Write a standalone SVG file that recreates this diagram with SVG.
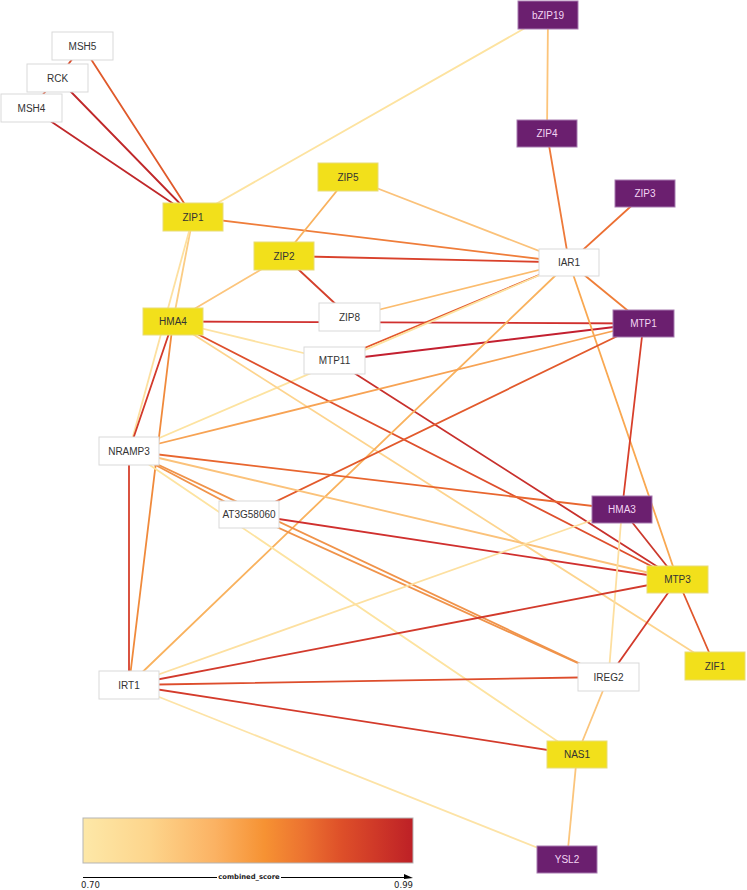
<svg xmlns="http://www.w3.org/2000/svg" width="747" height="890" viewBox="0 0 747 890">
<defs>
<linearGradient id="lg" x1="0" y1="0" x2="1" y2="0">
<stop offset="0" stop-color="#fde8a8"/>
<stop offset="0.2" stop-color="#fdd58c"/>
<stop offset="0.4" stop-color="#fbb263"/>
<stop offset="0.55" stop-color="#f69233"/>
<stop offset="0.67" stop-color="#ec7230"/>
<stop offset="0.78" stop-color="#de5029"/>
<stop offset="0.88" stop-color="#d03a28"/>
<stop offset="1" stop-color="#bd2026"/>
</linearGradient>
<style>
.e{fill:none;stroke-width:1.8;stroke-linecap:round}
.w rect{fill:#ffffff;stroke:#d9d9d9;stroke-width:1}
.y rect{fill:#f2e01b;stroke:#e8dc78;stroke-width:1}
.p rect{fill:#6b1f6f;stroke:#a77bb0;stroke-width:1}
text{font-family:"Liberation Sans",Arial,sans-serif;font-size:10px;text-anchor:middle}
.w text,.y text{fill:#333333}
.p text{fill:#f3d6f3}
.lt{font-family:"DejaVu Sans",Verdana,sans-serif;fill:#222222}
</style>
</defs>
<rect width="747" height="890" fill="#ffffff"/>
<g id="edges">
<line class="e" x1="82.5" y1="46" x2="57.5" y2="78" stroke="#d84a2a"/>
<line class="e" x1="57.5" y1="78" x2="31" y2="108" stroke="#d84a2a"/>
<line class="e" x1="82.5" y1="46" x2="193" y2="217" stroke="#e05a2b"/>
<line class="e" x1="57.5" y1="78" x2="193" y2="217" stroke="#c0282a"/>
<line class="e" x1="31" y1="108" x2="193" y2="217" stroke="#c0282a"/>
<line class="e" x1="548" y1="15" x2="193" y2="217" stroke="#fde3a0"/>
<line class="e" x1="548" y1="15" x2="547" y2="133.5" stroke="#fcc47a"/>
<line class="e" x1="547" y1="133.5" x2="569" y2="262.5" stroke="#ee7a3a"/>
<line class="e" x1="645" y1="193.5" x2="569" y2="262.5" stroke="#ec6f33"/>
<line class="e" x1="193" y1="217" x2="569" y2="262.5" stroke="#ef7d3a"/>
<line class="e" x1="348" y1="177" x2="569" y2="262.5" stroke="#fbc27a"/>
<line class="e" x1="348" y1="177" x2="284" y2="256" stroke="#f9b25e"/>
<line class="e" x1="284" y1="256" x2="569" y2="262.5" stroke="#d9412b"/>
<line class="e" x1="284" y1="256" x2="349.5" y2="317" stroke="#d4402c"/>
<line class="e" x1="284" y1="256" x2="173" y2="321.5" stroke="#fcc57c"/>
<line class="e" x1="193" y1="217" x2="173" y2="321.5" stroke="#fbcd85"/>
<line class="e" x1="193" y1="217" x2="129" y2="451" stroke="#fde0a0"/>
<line class="e" x1="173" y1="321.5" x2="643.5" y2="323.5" stroke="#d0302e"/>
<line class="e" x1="349.5" y1="317" x2="569" y2="262.5" stroke="#fbbc6e"/>
<line class="e" x1="334.5" y1="360.5" x2="569" y2="262.5" stroke="#e2562c"/>
<line class="e" x1="129" y1="451" x2="569" y2="262.5" stroke="#fde3a0" stroke-width="2.6"/>
<line class="e" x1="334.5" y1="360.5" x2="643.5" y2="323.5" stroke="#c32030"/>
<line class="e" x1="334.5" y1="360.5" x2="677.5" y2="579.5" stroke="#c8302c"/>
<line class="e" x1="173" y1="321.5" x2="334.5" y2="360.5" stroke="#fde2a2"/>
<line class="e" x1="173" y1="321.5" x2="677.5" y2="579.5" stroke="#de4f2c"/>
<line class="e" x1="173" y1="321.5" x2="715" y2="666" stroke="#fdd48e"/>
<line class="e" x1="173" y1="321.5" x2="129" y2="451" stroke="#d33a2a"/>
<line class="e" x1="173" y1="321.5" x2="129" y2="685" stroke="#f08a3c"/>
<line class="e" x1="569" y1="262.5" x2="643.5" y2="323.5" stroke="#ef7e38"/>
<line class="e" x1="569" y1="262.5" x2="677.5" y2="579.5" stroke="#f9a851"/>
<line class="e" x1="569" y1="262.5" x2="129" y2="685" stroke="#f9b25e"/>
<line class="e" x1="129" y1="451" x2="643.5" y2="323.5" stroke="#f7a354"/>
<line class="e" x1="249" y1="514.5" x2="643.5" y2="323.5" stroke="#e25a2c"/>
<line class="e" x1="643.5" y1="323.5" x2="622" y2="509.5" stroke="#d8402b"/>
<line class="e" x1="129" y1="451" x2="622" y2="509.5" stroke="#e8662f"/>
<line class="e" x1="129" y1="451" x2="677.5" y2="579.5" stroke="#fbc27a"/>
<line class="e" x1="129" y1="451" x2="608.5" y2="677" stroke="#f0934a"/>
<line class="e" x1="249" y1="514.5" x2="608.5" y2="677" stroke="#f0934a"/>
<line class="e" x1="129" y1="451" x2="249" y2="514.5" stroke="#f0934a"/>
<line class="e" x1="129" y1="451" x2="577" y2="754.5" stroke="#fde3a0"/>
<line class="e" x1="129" y1="451" x2="129" y2="685" stroke="#d6402c"/>
<line class="e" x1="249" y1="514.5" x2="677.5" y2="579.5" stroke="#d0302e"/>
<line class="e" x1="622" y1="509.5" x2="677.5" y2="579.5" stroke="#cc3a2e"/>
<line class="e" x1="677.5" y1="579.5" x2="715" y2="666" stroke="#e0572c"/>
<line class="e" x1="677.5" y1="579.5" x2="608.5" y2="677" stroke="#d23a2b"/>
<line class="e" x1="622" y1="509.5" x2="608.5" y2="677" stroke="#fddfa0"/>
<line class="e" x1="608.5" y1="677" x2="577" y2="754.5" stroke="#fbc57c"/>
<line class="e" x1="577" y1="754.5" x2="567" y2="859.5" stroke="#fbc57c"/>
<line class="e" x1="129" y1="685" x2="577" y2="754.5" stroke="#d43b2b"/>
<line class="e" x1="129" y1="685" x2="567" y2="859.5" stroke="#fde3a6"/>
<line class="e" x1="129" y1="685" x2="608.5" y2="677" stroke="#dd4d2c"/>
<line class="e" x1="129" y1="685" x2="677.5" y2="579.5" stroke="#d23a2c"/>
<line class="e" x1="129" y1="685" x2="622" y2="509.5" stroke="#fde0a0"/>
</g>
<g id="n-MSH5" class="w"><rect x="52" y="32" width="61" height="28"/><text x="82.5" y="49.5">MSH5</text></g>
<g id="n-RCK" class="w"><rect x="27" y="64" width="61" height="28"/><text x="57.5" y="81.5">RCK</text></g>
<g id="n-MSH4" class="w"><rect x="1" y="94" width="61" height="28"/><text x="31.5" y="111.5">MSH4</text></g>
<g id="n-ZIP1" class="y"><rect x="163" y="203" width="60" height="28"/><text x="193" y="220.5">ZIP1</text></g>
<g id="n-bZIP19" class="p"><rect x="518" y="1" width="60" height="28"/><text x="548" y="18.5">bZIP19</text></g>
<g id="n-ZIP4" class="p"><rect x="517" y="120" width="60" height="27"/><text x="547" y="137">ZIP4</text></g>
<g id="n-ZIP3" class="p"><rect x="615" y="180" width="60" height="27"/><text x="645" y="197">ZIP3</text></g>
<g id="n-ZIP5" class="y"><rect x="318" y="163" width="60" height="28"/><text x="348" y="180.5">ZIP5</text></g>
<g id="n-ZIP2" class="y"><rect x="254" y="242" width="60" height="28"/><text x="284" y="259.5">ZIP2</text></g>
<g id="n-IAR1" class="w"><rect x="539" y="249" width="60" height="27"/><text x="569" y="266">IAR1</text></g>
<g id="n-HMA4" class="y"><rect x="143" y="308" width="60" height="27"/><text x="173" y="325">HMA4</text></g>
<g id="n-ZIP8" class="w"><rect x="319" y="303" width="61" height="28"/><text x="349.5" y="320.5">ZIP8</text></g>
<g id="n-MTP11" class="w"><rect x="304" y="347" width="61" height="27"/><text x="334.5" y="364">MTP11</text></g>
<g id="n-MTP1" class="p"><rect x="613" y="310" width="61" height="27"/><text x="643.5" y="327">MTP1</text></g>
<g id="n-NRAMP3" class="w"><rect x="99" y="437" width="60" height="28"/><text x="129" y="454.5">NRAMP3</text></g>
<g id="n-AT3G58060" class="w"><rect x="219" y="501" width="60" height="27"/><text x="249" y="518">AT3G58060</text></g>
<g id="n-HMA3" class="p"><rect x="592" y="496" width="60" height="27"/><text x="622" y="513">HMA3</text></g>
<g id="n-MTP3" class="y"><rect x="647" y="566" width="61" height="27"/><text x="677.5" y="583">MTP3</text></g>
<g id="n-ZIF1" class="y"><rect x="685" y="652" width="60" height="28"/><text x="715" y="669.5">ZIF1</text></g>
<g id="n-IREG2" class="w"><rect x="578" y="663" width="61" height="28"/><text x="608.5" y="680.5">IREG2</text></g>
<g id="n-IRT1" class="w"><rect x="99" y="671" width="60" height="28"/><text x="129" y="688.5">IRT1</text></g>
<g id="n-NAS1" class="y"><rect x="547" y="741" width="60" height="27"/><text x="577" y="758">NAS1</text></g>
<g id="n-YSL2" class="p"><rect x="537" y="846" width="60" height="27"/><text x="567" y="863">YSL2</text></g>
<g id="legend">
<rect x="83" y="818" width="330" height="45" fill="url(#lg)" stroke="#b5b5b5" stroke-width="1"/>
<line x1="83" y1="877.5" x2="405" y2="877.5" stroke="#000000" stroke-width="1"/>
<polygon points="404,874 413,878 404,879" fill="#000000"/>
<rect x="217" y="872" width="64" height="8" fill="#ffffff"/>
<text class="lt" x="249" y="879" style="font-size:6.8px;font-weight:bold">combined_score</text>
<text class="lt" x="81" y="887.5" style="font-size:8.5px;text-anchor:start">0.70</text>
<text class="lt" x="413" y="887.5" style="font-size:8.5px;text-anchor:end">0.99</text>
</g>
</svg>
